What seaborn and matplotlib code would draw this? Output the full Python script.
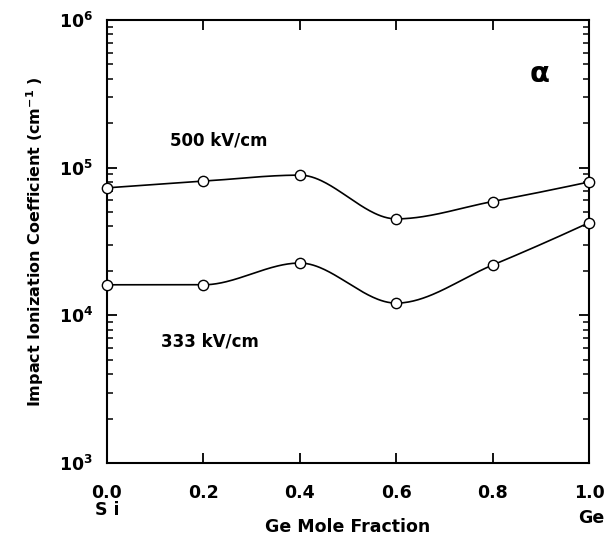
import numpy as np
import pandas as pd
import matplotlib
matplotlib.use("Agg")
import matplotlib.pyplot as plt
import seaborn as sns
from matplotlib.ticker import LogLocator, FixedLocator, NullFormatter

# ---- data ----
ge_fraction = [0.0, 0.2, 0.4, 0.6, 0.8, 1.0]
alpha_500 = [7.3e4, 8.1e4, 8.9e4, 4.5e4, 5.9e4, 8.0e4]
alpha_333 = [1.61e4, 1.61e4, 2.26e4, 1.21e4, 2.19e4, 4.24e4]
series_labels = ["500 kV/cm", "333 kV/cm"]
x_ticks = [0.0, 0.2, 0.4, 0.6, 0.8, 1.0]
x_tick_labels = ["0.0", "0.2", "0.4", "0.6", "0.8", "1.0"]


def pchip(x, y, xs):
    x = np.asarray(x, float); y = np.asarray(y, float)
    h = np.diff(x); d = np.diff(y) / h
    n = len(x); m = np.zeros(n)
    for k in range(1, n - 1):
        if d[k - 1] * d[k] > 0:
            w1 = 2 * h[k] + h[k - 1]; w2 = h[k] + 2 * h[k - 1]
            m[k] = (w1 + w2) / (w1 / d[k - 1] + w2 / d[k])
    def end(h0, h1, d0, d1):
        v = ((2 * h0 + h1) * d0 - h0 * d1) / (h0 + h1)
        if np.sign(v) != np.sign(d0):
            v = 0.0
        elif np.sign(d0) != np.sign(d1) and abs(v) > abs(3 * d0):
            v = 3 * d0
        return v
    m[0] = end(h[0], h[1], d[0], d[1])
    m[-1] = end(h[-1], h[-2], d[-1], d[-2])
    idx = np.clip(np.searchsorted(x, xs) - 1, 0, n - 2)
    t = (xs - x[idx]) / h[idx]
    h00 = 2 * t**3 - 3 * t**2 + 1; h10 = t**3 - 2 * t**2 + t
    h01 = -2 * t**3 + 3 * t**2; h11 = t**3 - t**2
    return h00 * y[idx] + h10 * h[idx] * m[idx] + h01 * y[idx + 1] + h11 * h[idx] * m[idx + 1]


xs = np.linspace(0, 1, 300)
curves = []
pts = []
for lab, vals in zip(series_labels, [alpha_500, alpha_333]):
    ys = 10 ** pchip(ge_fraction, np.log10(vals), xs)
    curves.append(pd.DataFrame({"x": xs, "y": ys, "s": lab}))
    pts.append(pd.DataFrame({"x": ge_fraction, "y": vals, "s": lab}))
curve_df = pd.concat(curves, ignore_index=True)
pts_df = pd.concat(pts, ignore_index=True)

sns.set_style("ticks")
plt.rcParams["font.family"] = ["DejaVu Sans"]
plt.rcParams["font.weight"] = "bold"
plt.rcParams["mathtext.fontset"] = "dejavusans"
plt.rcParams["mathtext.default"] = "bf"
for key in ["text.color", "axes.labelcolor", "xtick.color", "ytick.color",
            "axes.edgecolor", "xtick.labelcolor", "ytick.labelcolor"]:
    plt.rcParams[key] = "black"

fig = plt.figure(figsize=(6.16, 5.41), dpi=100)
ax = fig.add_axes([107 / 616, 1 - 463 / 541, (589 - 107) / 616, (463 - 20) / 541])

sns.lineplot(data=curve_df, x="x", y="y", units="s", estimator=None,
             color="black", linewidth=1.2, ax=ax, legend=False)
sns.scatterplot(data=pts_df, x="x", y="y", marker="o", s=55,
                facecolor="white", edgecolor="black", linewidth=1.0,
                ax=ax, legend=False, zorder=3, clip_on=False)

ax.set_yscale("log")
ax.set_ylim(1e3, 1e6)
ax.set_xlim(0, 1)

for sp in ax.spines.values():
    sp.set_linewidth(1.5)
    sp.set_color("black")

ax.xaxis.set_major_locator(FixedLocator(x_ticks))
ax.set_xticklabels(x_tick_labels)
ax.yaxis.set_major_locator(LogLocator(base=10, numticks=10))
ax.yaxis.set_minor_locator(LogLocator(base=10, subs=np.arange(2, 10), numticks=20))
ax.yaxis.set_minor_formatter(NullFormatter())
ax.tick_params(axis="both", which="major", direction="in", length=7.5, width=1.3,
               top=True, right=True, labelsize=12.5, colors="black")
ax.tick_params(axis="y", which="major", pad=10)
ax.tick_params(axis="y", which="minor", direction="in", length=4.5, width=1.1,
               left=True, right=True, colors="black")
ax.tick_params(axis="x", which="minor", bottom=False, top=False)
ax.tick_params(axis="x", which="major", pad=15)
for lbl in ax.get_xticklabels() + ax.get_yticklabels():
    lbl.set_fontweight("bold")

ax.set_xlabel("Ge Mole Fraction", fontsize=12.5, fontweight="bold", va="center")
ax.xaxis.set_label_coords(0.5, -0.145)
ax.set_ylabel("Impact Ionization Coefficient (cm$^{-1}$ )", fontsize=11.5,
              fontweight="bold", va="center")
ax.yaxis.set_label_coords(-0.149, 0.5)

ax.text(0.0, -0.106, "S i", transform=ax.transAxes, ha="center", va="center",
        fontsize=12.5, fontweight="bold")
ax.text(1.004, -0.124, "Ge", transform=ax.transAxes, ha="center", va="center",
        fontsize=12.5, fontweight="bold")
ax.text(0.232, 0.728, "500 kV/cm", transform=ax.transAxes, ha="center", va="center",
        fontsize=12, fontweight="bold")
ax.text(0.214, 0.275, "333 kV/cm", transform=ax.transAxes, ha="center", va="center",
        fontsize=12, fontweight="bold")
ax.text(0.898, 0.878, "\u03b1", transform=ax.transAxes, ha="center", va="center",
        fontsize=21, fontweight="bold", family=["DejaVu Sans"])

fig.savefig("out.png", dpi=100)
